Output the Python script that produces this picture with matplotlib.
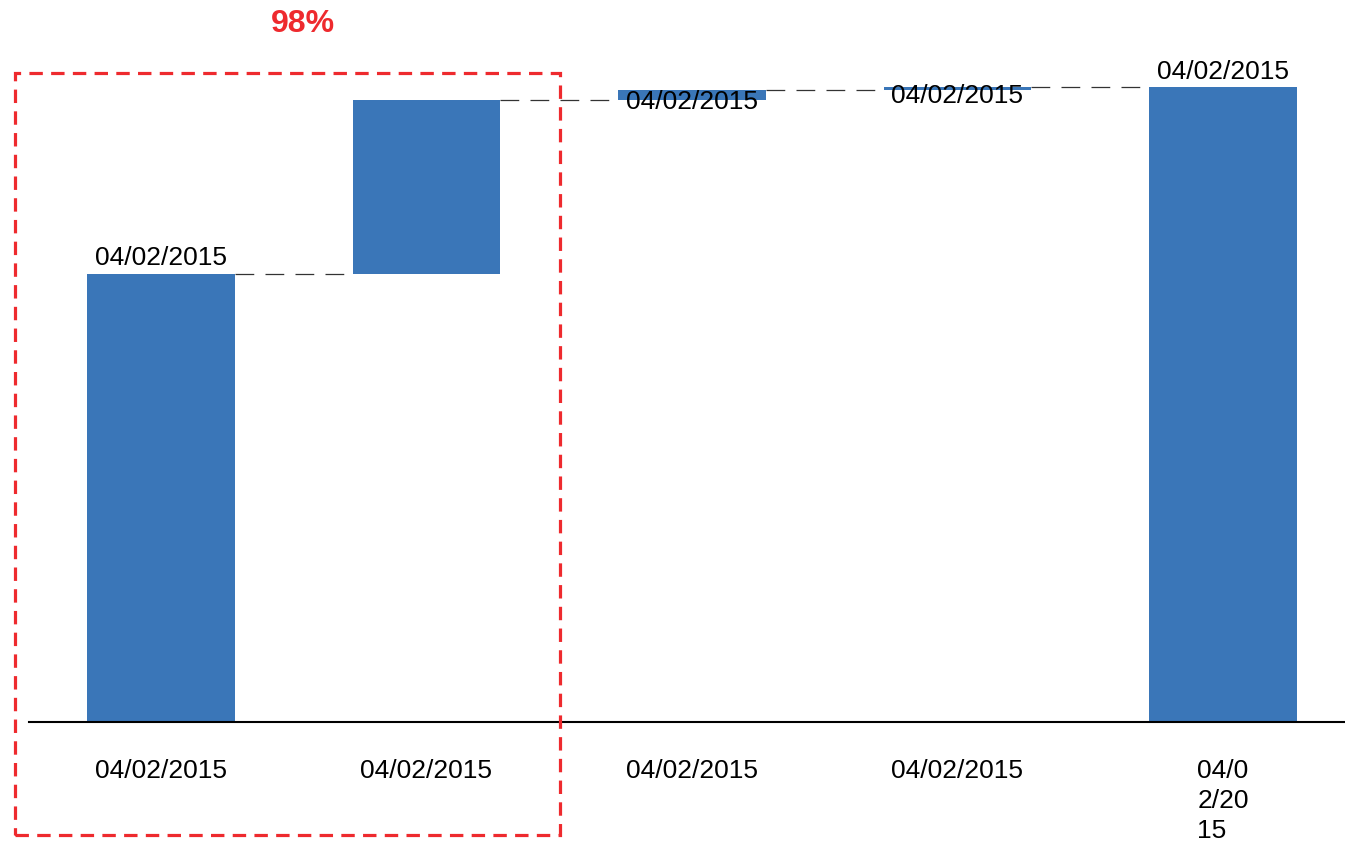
import matplotlib
matplotlib.use('Agg')
import matplotlib.pyplot as plt
import matplotlib.patches as patches
import numpy as np

plt.rcParams['font.family'] = ['Liberation Sans', 'DejaVu Sans']

# data
categories = ['04/02/2015', '04/02/2015', '04/02/2015', '04/02/2015', '04/0\n2/20\n15']
start_value = 448
changes = [174, 10, 3]
total_value = 635
bar_labels = ['04/02/2015', '', '04/02/2015', '04/02/2015', '04/02/2015']
highlight_text = '98%'

blue = '#3a76b8'
red = '#ee2a2e'

# waterfall bottoms / heights
cum = np.cumsum([start_value] + changes)
bottoms = [0] + list(cum[:-1]) + [0]
heights = [start_value] + changes + [total_value]
tops = [b + h for b, h in zip(bottoms, heights)]
x = np.arange(len(categories))
width = 0.556

fig = plt.figure(figsize=(13.45, 8.44), dpi=100)
ax = fig.add_axes([29 / 1345, 122 / 844, 1 - 29 / 1345, 722 / 844])
ax.bar(x, heights, bottom=bottoms, width=width, color=blue, zorder=2)

# connector lines
for i in range(len(x) - 1):
    ax.plot([x[i] + width / 2, x[i + 1] - width / 2], [tops[i], tops[i]],
            color='#333333', lw=0.9, linestyle=(0, (15, 9)), zorder=1)

# bar labels
offsets = [(0, 3, 'bottom'), None, (0, 0, 'top'), (0, 2, 'top'), (0, 2, 'bottom')]
for i, lab in enumerate(bar_labels):
    if not lab:
        continue
    dx, dy, va = offsets[i]
    ax.annotate(lab, (x[i], tops[i]), xytext=(dx, dy), textcoords='offset points',
                ha='center', va=va, fontsize=19, color='black', zorder=3)

ax.set_xlim(-0.497, 4.46)
ax.set_ylim(0, 722)
ax.set_xticks(x)
ax.set_xticklabels(categories, fontsize=19, multialignment='left', linespacing=1.3)
ax.tick_params(axis='x', length=0, pad=27)
ax.set_yticks([])
for s in ['top', 'right', 'left']:
    ax.spines[s].set_visible(False)
ax.spines['bottom'].set_linewidth(1.5)
ax.spines['bottom'].set_color('black')

# red highlight box and label
rect = patches.Rectangle((15 / 1345, 1 - 835 / 844), (560 - 15) / 1345, (835 - 73) / 844,
                         transform=fig.transFigure, fill=False, edgecolor=red,
                         lw=2.3, linestyle=(0, (4.2, 2.6)), zorder=5)
fig.add_artist(rect)
fig.text(303 / 1345, 1 - 24 / 844, highlight_text, color=red, fontsize=23,
         fontweight='bold', ha='center', va='center')

fig.savefig('out.png', dpi=100)
